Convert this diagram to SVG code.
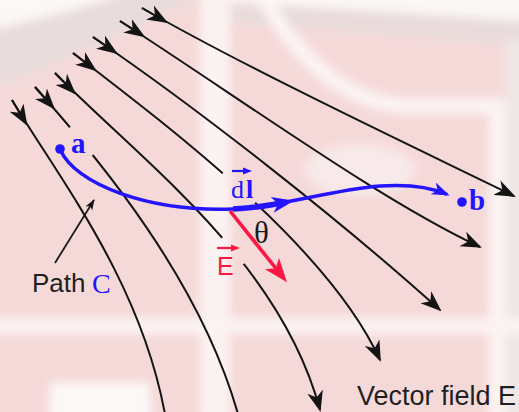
<svg xmlns="http://www.w3.org/2000/svg" width="519" height="412" viewBox="0 0 519 412">
<style>
.fl{fill:none;stroke:#141414;stroke-width:2}
.blue{fill:none;stroke:#2414ff;stroke-width:3.4;stroke-linecap:round}
.lbl{font-family:"Liberation Serif","Times New Roman",serif}
.sans{font-family:"Liberation Sans",Arial,sans-serif}
</style>
<defs>
<filter id="soft" x="-5%" y="-5%" width="110%" height="110%"><feGaussianBlur stdDeviation="5"/></filter>
<marker id="ah" markerUnits="userSpaceOnUse" markerWidth="21" markerHeight="17" viewBox="0 0 21 17" refX="19" refY="8.5" orient="auto"><path d="M0,0.5 L21,8.5 L0,16.5 L6,8.5 Z" fill="#141414"/></marker>
<marker id="ahs" markerUnits="userSpaceOnUse" markerWidth="11" markerHeight="9" viewBox="0 0 11 9" refX="10" refY="4.5" orient="auto"><path d="M0,0.5 L11,4.5 L0,8.5 L3,4.5 Z" fill="#141414"/></marker>
<marker id="bh1" markerUnits="userSpaceOnUse" markerWidth="22" markerHeight="16" viewBox="0 0 22 16" refX="14" refY="8" orient="auto"><path d="M0,0 L22,8 L0,16 L6,8 Z" fill="#2414ff"/></marker>
<marker id="bh2" markerUnits="userSpaceOnUse" markerWidth="18" markerHeight="13" viewBox="0 0 18 13" refX="14" refY="6.5" orient="auto"><path d="M0,0 L18,6.5 L0,13 L5,6.5 Z" fill="#2414ff"/></marker>
<marker id="rh" markerUnits="userSpaceOnUse" markerWidth="24" markerHeight="18" viewBox="0 0 24 18" refX="16" refY="9" orient="auto"><path d="M0,0 L24,9 L0,18 L6,9 Z" fill="#ff1744"/></marker>
<mask id="gaps" maskUnits="userSpaceOnUse" x="0" y="0" width="519" height="412">
<rect width="519" height="412" fill="#fff"/>
<circle cx="81.5" cy="141" r="18" fill="#000"/>
<circle cx="239" cy="188" r="22" fill="#000"/>
<circle cx="234" cy="250" r="17" fill="#000"/>
</mask>
</defs>

<g id="background" filter="url(#soft)">
<rect x="-20" y="-20" width="560" height="452" fill="#f5d9d9"/>
<polygon points="-20,-20 170,-20 0,32" fill="#fcf8f8"/>
<polygon points="0,28 135,-5 205,-5 0,88" fill="#e8dcdc"/>
<rect x="200" y="-10" width="30" height="430" fill="#fbf2f2"/>
<polygon points="230,-20 540,-20 540,22 230,2" fill="#fbf7f7"/>
<polygon points="230,4 540,22 540,48 230,22" fill="#e9dbdb"/>
<path d="M262,-5 Q318,96 400,106 L497,106 L497,420" fill="none" stroke="#fcf4f4" stroke-width="15"/>
<rect x="505" y="40" width="30" height="380" fill="#efe6e6"/>
<ellipse cx="360" cy="170" rx="55" ry="25" fill="#f8eaea"/>
<rect x="-10" y="318" width="540" height="16" fill="#fcf3f3"/>
<rect x="50" y="383" width="100" height="40" fill="#fdf8f8"/>
</g>

<g id="field-lines" mask="url(#gaps)">
<path class="fl" d="M142,8 C250,70 420,150 514,196" marker-end="url(#ah)"/>
<path class="fl" d="M120,21 C250,105 380,200 480,247" marker-end="url(#ah)"/>
<path class="fl" d="M93,37 C200,110 340,220 440,310" marker-end="url(#ah)"/>
<path class="fl" d="M73,53 C180,135 330,250 380,360" marker-end="url(#ah)"/>
<path class="fl" d="M55,73 C140,160 280,260 320,410" marker-end="url(#ah)"/>
<path class="fl" d="M35,87 C100,160 200,280 238,414"/>
<path class="fl" d="M12,100 C60,180 140,280 165,414"/>
<path class="fl" d="M142,8 L166.3,22" marker-end="url(#ah)"/>
<path class="fl" d="M120,21 L143.5,36.2" marker-end="url(#ah)"/>
<path class="fl" d="M93,37 L116.1,52.8" marker-end="url(#ah)"/>
<path class="fl" d="M73,53 L95.2,70" marker-end="url(#ah)"/>
<path class="fl" d="M55,73 L74.6,93" marker-end="url(#ah)"/>
<path class="fl" d="M35,87 L53.6,107.9" marker-end="url(#ah)"/>
<path class="fl" d="M12,100 L26.4,124" marker-end="url(#ah)"/>
</g>

<g id="path-c">
<path class="blue" d="M60,149 C75,185 150,212 233,209 C280,207 330,190 380,186 C410,184 430,187 446,194" marker-end="url(#bh2)"/>
<circle cx="60" cy="149" r="4.8" fill="#2414ff"/>
<circle cx="462" cy="202" r="4.8" fill="#2414ff"/>
<text class="lbl" x="71" y="153" font-size="29" font-weight="bold" fill="#2414ff">a</text>
<text class="lbl" x="469" y="210" font-size="29" font-weight="bold" fill="#2414ff">b</text>
</g>

<g id="dl-vector">
<path d="M233,209 C250,208.3 268,205.6 286,202.2" fill="none" stroke="#2414ff" stroke-width="5.5" marker-end="url(#bh1)"/>
<text class="lbl" x="231" y="198" font-size="26" letter-spacing="2" fill="#2414ff">d<tspan font-weight="bold">l</tspan></text>
<path d="M232,171 L245,171" stroke="#2414ff" stroke-width="2.2"/>
<polygon points="243,167.5 252,171 243,174.5" fill="#2414ff"/>
</g>

<g id="e-vector">
<path d="M230,211 L282,276" fill="none" stroke="#ff1744" stroke-width="3.6" marker-end="url(#rh)"/>
<text class="sans" x="217" y="275" font-size="25" fill="#ff1744">E</text>
<path d="M217,248 L233,248" stroke="#ff1744" stroke-width="2.2"/>
<polygon points="231,244.5 240,248 231,251.5" fill="#ff1744"/>
</g>

<g id="theta">
<text class="lbl" x="254" y="243" font-size="31" fill="#1a1a1a">θ</text>
</g>

<g id="path-label">
<path d="M55,263 L94,200" fill="none" stroke="#1a1a1a" stroke-width="1.8" marker-end="url(#ahs)"/>
<text class="sans" x="32" y="292" font-size="26" fill="#1f1f1f">Path</text>
<text class="lbl" x="92" y="293" font-size="28" fill="#2414ff">C</text>
</g>

<g id="field-label">
<text class="sans" x="357" y="405" font-size="27" fill="#1f1f1f">Vector field E</text>
</g>
</svg>
